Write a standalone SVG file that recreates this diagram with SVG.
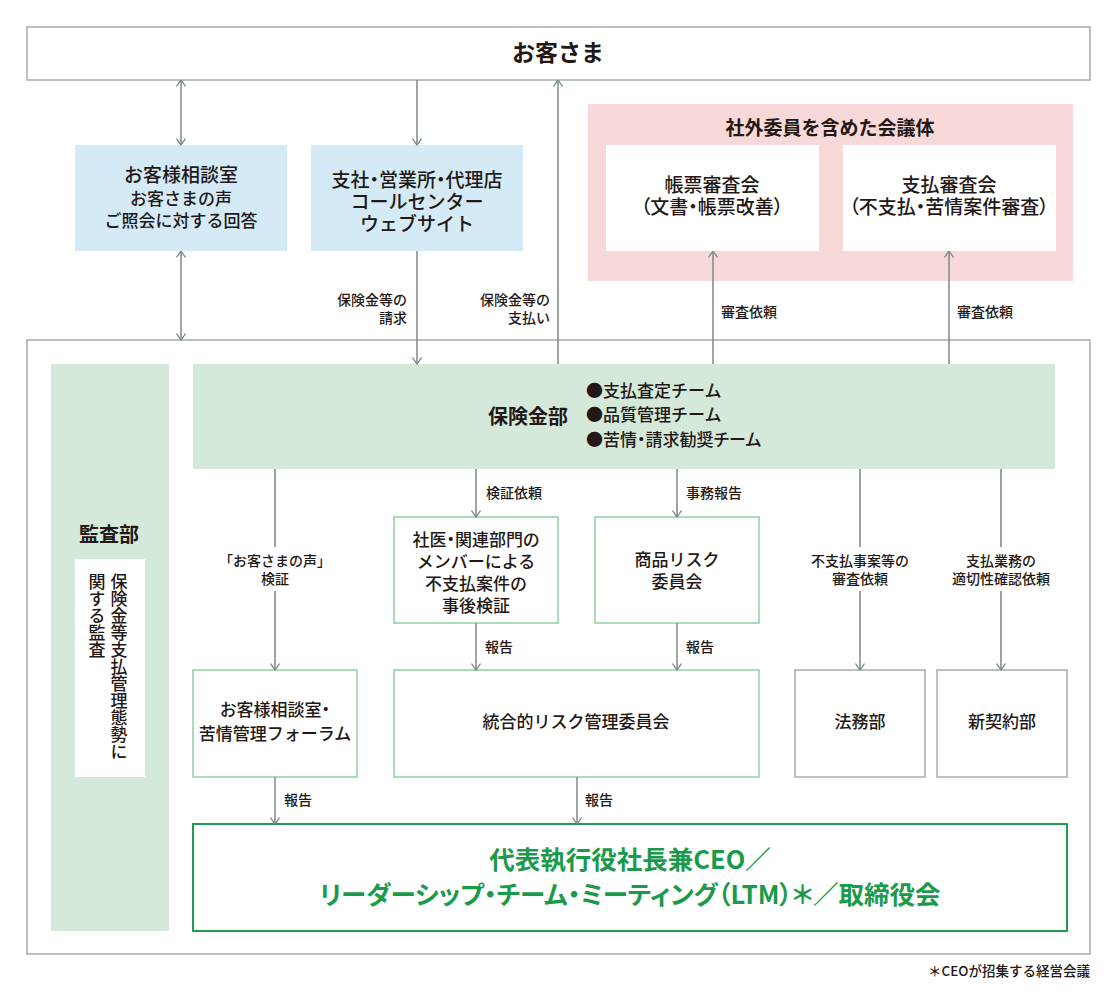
<svg xmlns="http://www.w3.org/2000/svg" width="1118" height="1008" viewBox="0 0 1118 1008">
<defs>
<marker id="ah" viewBox="0 0 10 10" refX="9.5" refY="5" markerWidth="10" markerHeight="10" markerUnits="userSpaceOnUse" orient="auto-start-reverse">
<path d="M3,0.5 L9.5,5 L3,9.5" fill="none" stroke="#7c8788" stroke-width="1.3"/>
</marker>
<style>
text{font-family:"Noto Sans CJK JP","Noto Sans",sans-serif;fill:#231815;font-weight:500}
.c{text-anchor:middle}
.r{text-anchor:end}
.b{font-weight:700}
.p{font-feature-settings:"palt"}
.lbl{font-size:14px}
.gray{fill:#fff;stroke:#a3adb4;stroke-width:1.5}
.blue{fill:#d4eaf7}
.pink{fill:#f8d9d9}
.mint{fill:#d5e9da}
.gbox{fill:#fff;stroke:#91d0a2;stroke-width:1.5}
.ln{fill:none;stroke:#7c8788;stroke-width:1.5}
.grn{fill:#1a9a4a}
</style>
</defs>
<rect width="1118" height="1008" fill="#fff"/>

<g id="customer">
<rect class="gray" x="27" y="27" width="1063" height="53"/>
<text class="c b" x="558" y="61" font-size="23">お客さま</text>
</g>

<g id="outer-frame">
<rect x="27" y="340" width="1063" height="614" fill="none" stroke="#a3adb4" stroke-width="1.5"/>
</g>

<g id="consult">
<rect class="blue" x="75" y="145" width="212" height="106"/>
<text class="c" x="181" y="182" font-size="19">お客様相談室</text>
<text class="c" x="181" y="205" font-size="17">お客さまの声</text>
<text class="c" x="181" y="227" font-size="17">ご照会に対する回答</text>
</g>

<g id="branch">
<rect class="blue" x="311" y="145" width="212" height="106"/>
<text class="c p" x="417" y="187" font-size="19">支社・営業所・代理店</text>
<text class="c" x="417" y="209" font-size="19">コールセンター</text>
<text class="c" x="417" y="231" font-size="19">ウェブサイト</text>
</g>

<g id="external">
<rect class="pink" x="588" y="104" width="485" height="177"/>
<text class="c b" x="830" y="135" font-size="19">社外委員を含めた会議体</text>
</g>
<g id="form-review">
<rect fill="#fff" x="606" y="145" width="213" height="106"/>
<text class="c" x="712" y="192" font-size="19">帳票審査会</text>
<text class="c p" x="712" y="214" font-size="19">（文書・帳票改善）</text>
</g>
<g id="pay-review">
<rect fill="#fff" x="843" y="145" width="213" height="106"/>
<text class="c" x="949" y="192" font-size="19">支払審査会</text>
<text class="c p" x="949" y="214" font-size="19">（不支払・苦情案件審査）</text>
</g>

<g id="audit">
<rect class="mint" x="51" y="364" width="118" height="567"/>
<text class="c b" x="109" y="542" font-size="20">監査部</text>
<rect fill="#fff" x="75" y="559" width="70" height="218"/>
<text x="119" y="573" font-size="17" writing-mode="vertical-rl">保険金等支払管理態勢に</text>
<text x="97" y="573" font-size="17" writing-mode="vertical-rl">関する監査</text>
</g>

<g id="claims">
<rect class="mint" x="193" y="364" width="862" height="105"/>
<text class="b" x="488" y="424" font-size="20">保険金部</text>
<text x="586" y="397" font-size="17">●支払査定チーム</text>
<text x="586" y="421" font-size="17">●品質管理チーム</text>
<text class="p" x="586" y="446" font-size="17">●苦情・請求勧奨チーム</text>
</g>

<g id="post-verify">
<rect class="gbox" x="394" y="517" width="164" height="106"/>
<text class="c p" x="476" y="546" font-size="17">社医・関連部門の</text>
<text class="c" x="476" y="568" font-size="17">メンバーによる</text>
<text class="c" x="476" y="590" font-size="17">不支払案件の</text>
<text class="c" x="476" y="612" font-size="17">事後検証</text>
</g>

<g id="product-risk">
<rect class="gbox" x="595" y="517" width="164" height="106"/>
<text class="c" x="677" y="566" font-size="17">商品リスク</text>
<text class="c" x="677" y="588" font-size="17">委員会</text>
</g>

<g id="forum">
<rect class="gbox" x="193" y="670" width="164" height="107"/>
<text class="c p" x="275" y="716" font-size="17">お客様相談室・</text>
<text class="c" x="275" y="740" font-size="17">苦情管理フォーラム</text>
</g>

<g id="erm">
<rect class="gbox" x="394" y="670" width="365" height="107"/>
<text class="c" x="576" y="728" font-size="17">統合的リスク管理委員会</text>
</g>

<g id="legal">
<rect class="gray" x="795" y="670" width="130" height="107"/>
<text class="c" x="860" y="728" font-size="17">法務部</text>
</g>

<g id="new-contract">
<rect class="gray" x="937" y="670" width="130" height="107"/>
<text class="c" x="1002" y="728" font-size="17">新契約部</text>
</g>

<g id="ceo">
<rect fill="#fff" stroke="#1f9d50" stroke-width="2" x="193" y="824" width="874" height="107"/>
<text class="c b grn" x="630" y="869" font-size="25.5">代表執行役社長兼CEO／</text>
<text class="c b grn p" x="630" y="904" font-size="25.5">リーダーシップ・チーム・ミーティング（LTM）＊／取締役会</text>
</g>

<g id="connectors">
<line class="ln" x1="181" y1="80" x2="181" y2="145" marker-start="url(#ah)" marker-end="url(#ah)"/>
<line class="ln" x1="417" y1="80" x2="417" y2="145" marker-end="url(#ah)"/>
<line class="ln" x1="181" y1="251" x2="181" y2="340" marker-start="url(#ah)" marker-end="url(#ah)"/>
<line class="ln" x1="417" y1="251" x2="417" y2="364" marker-end="url(#ah)"/>
<line class="ln" x1="558" y1="364" x2="558" y2="80" marker-end="url(#ah)"/>
<line class="ln" x1="713" y1="364" x2="713" y2="251" marker-end="url(#ah)"/>
<line class="ln" x1="949" y1="364" x2="949" y2="251" marker-end="url(#ah)"/>
<path class="ln" d="M275,469 V547 M275,591 V670" marker-end="url(#ah)"/>
<line class="ln" x1="476" y1="469" x2="476" y2="517" marker-end="url(#ah)"/>
<line class="ln" x1="677" y1="469" x2="677" y2="517" marker-end="url(#ah)"/>
<line class="ln" x1="476" y1="623" x2="476" y2="670" marker-end="url(#ah)"/>
<line class="ln" x1="677" y1="623" x2="677" y2="670" marker-end="url(#ah)"/>
<path class="ln" d="M860,469 V547 M860,591 V670" marker-end="url(#ah)"/>
<path class="ln" d="M1001,469 V547 M1001,591 V670" marker-end="url(#ah)"/>
<line class="ln" x1="275" y1="777" x2="275" y2="824" marker-end="url(#ah)"/>
<line class="ln" x1="577" y1="777" x2="577" y2="824" marker-end="url(#ah)"/>
</g>

<g id="labels">
<text class="lbl r" x="407" y="305">保険金等の</text>
<text class="lbl r" x="407" y="323">請求</text>
<text class="lbl r" x="550" y="305">保険金等の</text>
<text class="lbl r" x="550" y="323">支払い</text>
<text class="lbl" x="721" y="317">審査依頼</text>
<text class="lbl" x="957" y="317">審査依頼</text>
<text class="lbl c" x="275" y="566">「お客さまの声」</text>
<text class="lbl c" x="275" y="584">検証</text>
<text class="lbl" x="486" y="498">検証依頼</text>
<text class="lbl" x="686" y="498">事務報告</text>
<text class="lbl" x="485" y="652">報告</text>
<text class="lbl" x="686" y="652">報告</text>
<text class="lbl c" x="860" y="566">不支払事案等の</text>
<text class="lbl c" x="860" y="584">審査依頼</text>
<text class="lbl c" x="1001" y="566">支払業務の</text>
<text class="lbl c" x="1001" y="584">適切性確認依頼</text>
<text class="lbl" x="284" y="805">報告</text>
<text class="lbl" x="585" y="805">報告</text>
</g>

<g id="footnote">
<text class="r" x="1090" y="976" font-size="13.5">＊CEOが招集する経営会議</text>
</g>
</svg>
